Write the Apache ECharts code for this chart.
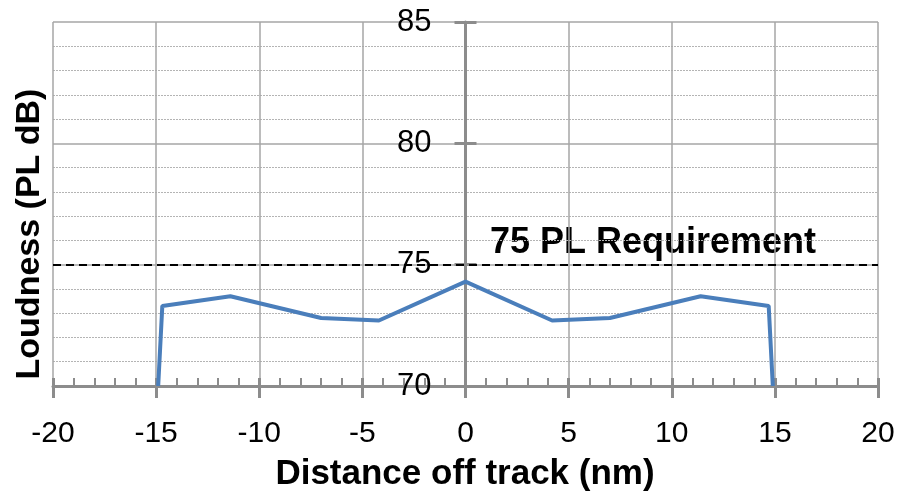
<!DOCTYPE html>
<html>
<head>
<meta charset="utf-8">
<script src="https://cdn.jsdelivr.net/npm/echarts@6/dist/echarts.min.js"></script>
<style>
  html, body { margin: 0; padding: 0; background: #fff; }
  #chart { width: 902px; height: 498px; }
</style>
</head>
<body>
<div id="chart"></div>
<script>
// distance off track (nm) and loudness (PL dB)
var distance = [-14.9, -14.7, -11.4, -7.0, -4.2, 0, 4.2, 7.0, 11.4, 14.7, 14.9];
var loudness = [70, 73.3, 73.7, 72.8, 72.7, 74.3, 72.7, 72.8, 73.7, 73.3, 70];
var requirement = 75;
var xRange = [-20, 20];
var yRange = [70, 85];

var points = distance.map(function (d, i) { return [d, loudness[i]]; });

var chart = echarts.init(document.getElementById('chart'));
var axisGrey = '#8c8c8c';
var font = 'Liberation Sans';
var gridLeft = 53, gridRight = 24;
// y axis sits on x = 0, i.e. the middle of the plot
var yOffset = -(902 - gridLeft - gridRight) / 2;

var option = {
  animation: false,
  grid: { left: gridLeft, right: gridRight, top: 22, bottom: 112, containLabel: false, outerBoundsMode: 'none' },
  xAxis: [
    {
      type: 'value', min: xRange[0], max: xRange[1], interval: 5,
      position: 'bottom',
      axisLine: { onZero: false, lineStyle: { color: axisGrey, width: 3 } },
      axisTick: { show: true, length: 12, lineStyle: { color: axisGrey, width: 3 } },
      axisLabel: { margin: 33, fontSize: 30, fontFamily: font, color: '#000' },
      splitLine: { show: true, lineStyle: { color: '#a6a6a6', width: 1.5 } }
    },
    {
      // inside ticks + minor ticks
      type: 'value', min: xRange[0], max: xRange[1], interval: 5,
      position: 'bottom',
      axisLine: { onZero: false, show: false },
      axisTick: { show: true, inside: true, length: 8, lineStyle: { color: axisGrey, width: 3 } },
      minorTick: { show: true, splitNumber: 5, length: 8, lineStyle: { color: axisGrey, width: 2 } },
      axisLabel: { show: false },
      splitLine: { show: false }
    }
  ],
  yAxis: [
    {
      type: 'value', min: yRange[0], max: yRange[1], interval: 5,
      position: 'left', offset: yOffset,
      axisLine: { show: true, onZero: false, lineStyle: { color: axisGrey, width: 3 } },
      axisTick: { show: true, length: 11, lineStyle: { color: axisGrey, width: 3 } },
      axisLabel: { margin: 34, fontSize: 31, fontFamily: font, color: '#000' },
      splitLine: { show: true, lineStyle: { color: '#a6a6a6', width: 1.5 } },
      minorTick: { show: false, splitNumber: 5 },
      minorSplitLine: { show: true, lineStyle: { color: '#b4b4b4', width: 1, type: [2, 1] } }
    },
    {
      type: 'value', min: yRange[0], max: yRange[1], interval: 5,
      position: 'left', offset: yOffset,
      axisLine: { show: false, onZero: false },
      axisTick: { show: true, inside: true, length: 11, lineStyle: { color: axisGrey, width: 3 } },
      axisLabel: { show: false },
      splitLine: { show: false }
    }
  ],
  graphic: [
    {
      type: 'text', rotation: Math.PI / 2, x: 30, y: 234,
      style: {
        text: 'Loudness (PL dB)', font: 'bold 34px ' + font, fill: '#000',
        textAlign: 'center', textVerticalAlign: 'middle'
      }
    },
    {
      type: 'text', x: 465, y: 474,
      style: {
        text: 'Distance off track (nm)', font: 'bold 35px ' + font, fill: '#000',
        textAlign: 'center', textVerticalAlign: 'middle'
      }
    },
    {
      type: 'text', x: 490, y: 243,
      style: {
        text: '75 PL Requirement', font: 'bold 36px ' + font, fill: '#000',
        textAlign: 'left', textVerticalAlign: 'middle'
      }
    }
  ],
  series: [
    {
      type: 'line',
      data: points,
      showSymbol: false,
      symbol: 'none',
      lineStyle: { color: '#4a7ebb', width: 4 },
      z: 5,
      markLine: {
        silent: true,
        symbol: 'none',
        label: { show: false },
        lineStyle: { color: '#000', type: [8, 5], width: 2 },
        data: [{ yAxis: requirement }]
      }
    }
  ]
};

chart.setOption(option);
</script>
</body>
</html>
